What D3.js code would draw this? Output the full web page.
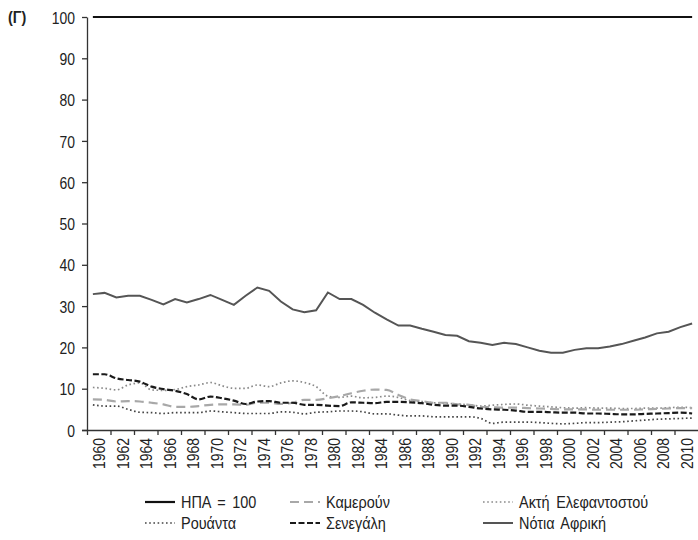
<!DOCTYPE html>
<html><head><meta charset="utf-8">
<script src="https://cdn.jsdelivr.net/npm/d3@7"></script>
<style>
html,body{margin:0;padding:0;background:#fff;}
svg{display:block;}
text{font-family:"Liberation Sans",Arial,sans-serif;fill:#222;}
</style></head>
<body><svg id="c" width="698" height="540"></svg>
<script>
const years = d3.range(1960, 2012);
const yTicks = [0,10,20,30,40,50,60,70,80,90,100];
const xTickYears = d3.range(1960, 2012, 2);
const usa = years.map(() => 100);
const southAfrica = [32.9,33.2,32.1,32.5,32.5,31.5,30.4,31.7,30.9,31.7,
  32.7,31.5,30.3,32.5,34.5,33.7,31.1,29.2,28.5,29.0,
  33.3,31.7,31.7,30.3,28.4,26.8,25.3,25.3,24.5,23.8,
  23.0,22.8,21.5,21.1,20.6,21.1,20.8,20.0,19.2,18.7,
  18.7,19.4,19.8,19.8,20.2,20.8,21.6,22.4,23.4,23.8,
  24.9,25.8];
const senegal = [13.5,13.5,12.5,12.1,11.7,10.5,9.9,9.5,8.7,7.4,
  8.1,7.7,7.1,6.3,6.9,7.0,6.6,6.6,6.1,6.1,
  5.9,5.8,6.7,6.6,6.5,6.8,6.8,6.7,6.5,6.1,
  5.9,5.9,5.6,5.2,5.0,4.9,4.7,4.4,4.4,4.3,
  4.2,4.2,4.0,4.0,3.9,3.8,3.8,3.9,4.0,4.1,
  4.2,4.0];
const cameroon = [7.4,7.3,6.9,7.0,6.9,6.6,6.2,5.6,5.6,5.8,
  6.1,6.2,6.2,6.1,6.6,6.6,6.3,6.6,7.3,7.3,
  7.7,8.2,8.9,9.5,9.8,9.7,8.5,7.4,7.0,6.6,
  6.6,6.2,6.1,5.6,5.5,5.4,5.4,5.3,5.2,5.1,
  5.0,5.0,5.0,4.9,4.9,4.9,4.9,5.0,5.1,5.2,
  5.3,5.3];
const coteIvoire = [10.3,10.1,9.7,10.9,11.4,9.7,9.6,9.8,10.5,10.9,
  11.5,10.7,10.1,10.1,10.9,10.5,11.4,11.9,11.5,10.5,
  8.2,7.9,8.2,7.8,7.9,8.2,7.9,7.1,6.9,6.6,
  6.5,6.3,6.1,5.8,6.0,6.2,6.3,6.0,5.8,5.6,
  5.4,5.3,5.4,5.3,5.3,5.2,5.2,5.3,5.3,5.4,
  5.5,5.4];
const rwanda = [6.1,5.8,5.8,5.0,4.3,4.2,4.0,4.2,4.2,4.2,
  4.6,4.4,4.2,4.0,4.0,4.0,4.4,4.3,3.9,4.3,
  4.4,4.6,4.6,4.4,3.9,3.9,3.6,3.4,3.4,3.2,
  3.2,3.2,3.2,2.8,1.6,1.9,1.9,1.9,1.8,1.6,
  1.5,1.6,1.8,1.8,1.9,2.0,2.2,2.4,2.6,2.7,
  2.8,2.9];
const seriesNames = ["ΗΠΑ = 100","Καμερούν","Ακτή Ελεφαντοστού","Ρουάντα","Σενεγάλη","Νότια Αφρική"];

const styles = {
  "ΗΠΑ = 100": {color:"#111", w:2.2, dash:null, curve:d3.curveLinear},
  "Καμερούν": {color:"#a8a8a8", w:2.2, dash:"9,5", curve:d3.curveMonotoneX},
  "Ακτή Ελεφαντοστού": {color:"#8a8a8a", w:1.7, dash:"1.6,2.6", curve:d3.curveMonotoneX},
  "Ρουάντα": {color:"#444", w:1.7, dash:"1.6,2.6", curve:d3.curveMonotoneX},
  "Σενεγάλη": {color:"#1a1a1a", w:2.2, dash:"6,2.5", curve:d3.curveMonotoneX},
  "Νότια Αφρική": {color:"#555", w:2, dash:null, curve:d3.curveLinear}
};
const valuesByName = {
  "ΗΠΑ = 100": usa, "Καμερούν": cameroon, "Ακτή Ελεφαντοστού": coteIvoire,
  "Ρουάντα": rwanda, "Σενεγάλη": senegal, "Νότια Αφρική": southAfrica
};

const SX = 0.82; // condensed look
const svg = d3.select("#c");
const mLeft = 87, mRight = 698, mTop = 17, mBottom = 430;
const x = d3.scaleBand().domain(years).range([mLeft, mRight]).padding(0);
const bw = x.bandwidth();
const xl = d3.scaleLinear().domain([1960, 2012]).range([mLeft, mRight]);
const y = d3.scaleLinear().domain([0, 100]).range([mBottom, mTop]);

// y axis
const ya = svg.append("g").attr("transform", `translate(${mLeft},0)`)
  .call(d3.axisLeft(y).tickValues(yTicks).tickSize(5).tickSizeOuter(0));
ya.select(".domain").attr("stroke", "#333").attr("stroke-width", 1.3);
ya.selectAll(".tick line").attr("stroke", "#333").attr("stroke-width", 1.3);
ya.selectAll(".tick text").style("font-size", "17px").attr("fill", "#222")
  .attr("x", 0).attr("dy", "0.36em")
  .attr("transform", `translate(-12,0) scale(${SX},1)`);

// x axis
const xa = svg.append("g").attr("transform", `translate(0,${mBottom})`)
  .call(d3.axisBottom(xl).tickValues(xTickYears).tickSize(5).tickSizeOuter(0).tickFormat(d3.format("d")));
xa.select(".domain").attr("stroke", "#333").attr("stroke-width", 1.3)
  .attr("d", `M${mLeft-5},0.5H${mRight}`);
xa.selectAll(".tick line").attr("stroke", "#333").attr("stroke-width", 1.3);
xa.selectAll(".tick text")
  .style("font-size", "17px").attr("fill", "#222")
  .attr("text-anchor", "end").attr("y", 0).attr("dy", "0.36em")
  .attr("transform", `translate(${bw},8) rotate(-90) scale(${SX},1)`);

// label
svg.append("text").attr("transform", "translate(8,23) scale(0.9,1)")
  .style("font-size", "16px").style("font-weight", "bold").text("(Γ)");

// lines
const drawOrder = ["Ρουάντα","Ακτή Ελεφαντοστού","Καμερούν","Σενεγάλη","Νότια Αφρική","ΗΠΑ = 100"];
drawOrder.forEach(name => {
  const st = styles[name];
  const vals = valuesByName[name];
  const line = d3.line().x((d, i) => x(years[i]) + bw / 2).y(d => y(d)).curve(st.curve);
  svg.append("path").datum(vals).attr("d", line)
    .attr("fill", "none").attr("stroke", st.color).attr("stroke-width", st.w)
    .attr("stroke-dasharray", st.dash);
});

// legend
const legCols = [145, 290, 483];
const legRows = [502, 523];
seriesNames.forEach((name, i) => {
  const st = styles[name];
  const cx = legCols[i % 3], cy = legRows[Math.floor(i / 3)];
  svg.append("line").attr("x1", cx).attr("x2", cx + 30).attr("y1", cy).attr("y2", cy)
    .attr("stroke", st.color).attr("stroke-width", st.w).attr("stroke-dasharray", st.dash);
  svg.append("text").attr("transform", `translate(${cx + 36},${cy}) scale(0.85,1)`)
    .attr("dy", "0.36em").style("font-size", "17px").style("word-spacing", "3px").text(name);
});
</script></body></html>
